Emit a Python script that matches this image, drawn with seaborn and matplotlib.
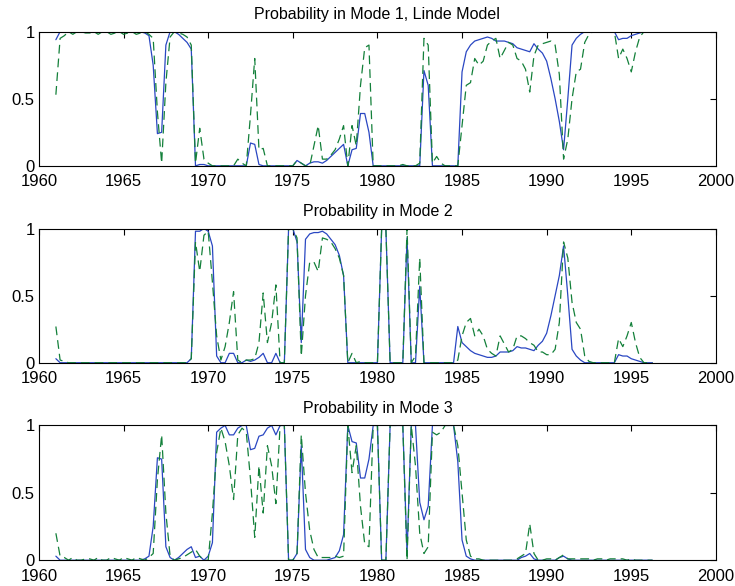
import numpy as np
import pandas as pd
import matplotlib
matplotlib.use("Agg")
import matplotlib.pyplot as plt
import seaborn as sns

# quarterly observations, 1961Q1 .. 1996Q2
years = np.arange(1961, 1996.26, 0.25)

# Mode 1 (Linde model) - solid / dashed estimates
mode1_solid = [
    0.94, 1.00, 1.00, 1.00,
    1.00, 1.00, 1.00, 1.00,
    1.00, 1.00, 1.00, 1.00,
    1.00, 1.00, 1.00, 1.00,
    1.00, 1.00, 1.00, 1.00,
    1.00, 0.99, 0.97, 0.75,
    0.24, 0.25, 0.90, 1.00,
    1.00, 0.98, 0.95, 0.92,
    0.87, 0.00, 0.01, 0.01,
    0.00, 0.00, 0.00, 0.00,
    0.00, 0.00, 0.00, 0.00,
    0.00, 0.00, 0.17, 0.16,
    0.01, 0.00, 0.00, 0.00,
    0.00, 0.00, 0.00, 0.00,
    0.00, 0.04, 0.02, 0.00,
    0.02, 0.03, 0.03, 0.02,
    0.04, 0.07, 0.10, 0.13,
    0.16, 0.00, 0.12, 0.13,
    0.39, 0.39, 0.25, 0.00,
    0.00, 0.00, 0.00, 0.00,
    0.00, 0.00, 0.00, 0.00,
    0.00, 0.00, 0.00, 0.71,
    0.60, 0.00, 0.00, 0.00,
    0.00, 0.00, 0.00, 0.00,
    0.70, 0.85, 0.90, 0.93,
    0.94, 0.95, 0.96, 0.95,
    0.93, 0.93, 0.93, 0.92,
    0.91, 0.88, 0.87, 0.86,
    0.85, 0.91, 0.87, 0.84,
    0.78, 0.65, 0.50, 0.33,
    0.12, 0.50, 0.90, 0.95,
    0.98, 1.00, 1.00, 1.00,
    1.00, 1.00, 1.00, 1.00,
    1.00, 0.94, 0.95, 0.95,
    0.97, 0.98, 0.99, 1.00,
    1.00, 1.00,
]
mode1_dashed = [
    0.53, 0.95, 0.97, 1.00,
    0.98, 1.00, 1.00, 0.99,
    0.99, 1.00, 0.98, 1.00,
    1.00, 0.98, 0.99, 1.00,
    0.98, 0.99, 1.00, 0.98,
    0.99, 1.00, 0.98, 0.95,
    0.40, 0.02, 0.62, 0.96,
    1.00, 0.99, 0.98, 0.96,
    0.90, 0.02, 0.28, 0.05,
    0.02, 0.00, 0.00, 0.00,
    0.00, 0.00, 0.00, 0.05,
    0.02, 0.00, 0.38, 0.80,
    0.12, 0.13, 0.00, 0.00,
    0.00, 0.00, 0.00, 0.00,
    0.00, 0.04, 0.02, 0.00,
    0.00, 0.15, 0.30, 0.05,
    0.05, 0.08, 0.12, 0.20,
    0.30, 0.00, 0.30, 0.15,
    0.60, 0.88, 0.90, 0.00,
    0.00, 0.00, 0.00, 0.00,
    0.00, 0.00, 0.01, 0.00,
    0.00, 0.00, 0.02, 0.95,
    0.90, 0.02, 0.07, 0.02,
    0.00, 0.00, 0.00, 0.00,
    0.30, 0.60, 0.62, 0.80,
    0.75, 0.78, 0.90, 0.93,
    0.95, 0.80, 0.86, 0.92,
    0.90, 0.80, 0.78, 0.72,
    0.55, 0.82, 0.90, 0.91,
    0.92, 0.93, 0.90, 0.68,
    0.05, 0.20, 0.50, 0.70,
    0.72, 0.92, 0.98, 1.00,
    1.00, 1.00, 1.00, 1.00,
    1.00, 0.80, 0.87, 0.80,
    0.70, 0.85, 0.96, 1.00,
    1.00, 1.00,
]

# Mode 2
mode2_solid = [
    0.03, 0.00, 0.00, 0.00,
    0.00, 0.00, 0.00, 0.00,
    0.00, 0.00, 0.00, 0.00,
    0.00, 0.00, 0.00, 0.00,
    0.00, 0.00, 0.00, 0.00,
    0.00, 0.00, 0.00, 0.00,
    0.00, 0.00, 0.00, 0.00,
    0.00, 0.00, 0.00, 0.00,
    0.03, 0.98, 0.98, 1.00,
    0.98, 0.87, 0.05, 0.00,
    0.00, 0.07, 0.07, 0.00,
    0.00, 0.02, 0.01, 0.02,
    0.04, 0.07, 0.00, 0.00,
    0.07, 0.00, 0.00, 1.00,
    1.00, 0.90, 0.15, 0.92,
    0.96, 0.97, 0.97, 0.98,
    0.96, 0.92, 0.88, 0.80,
    0.65, 0.00, 0.00, 0.00,
    0.00, 0.00, 0.00, 0.00,
    0.00, 1.00, 1.00, 0.00,
    0.00, 0.00, 0.00, 0.93,
    0.00, 0.00, 0.57, 0.00,
    0.00, 0.00, 0.00, 0.00,
    0.00, 0.00, 0.00, 0.27,
    0.15, 0.12, 0.09, 0.07,
    0.06, 0.05, 0.04, 0.04,
    0.05, 0.08, 0.08, 0.08,
    0.09, 0.12, 0.11, 0.11,
    0.10, 0.09, 0.13, 0.16,
    0.22, 0.35, 0.50, 0.65,
    0.87, 0.50, 0.10, 0.05,
    0.02, 0.00, 0.00, 0.00,
    0.00, 0.00, 0.00, 0.00,
    0.00, 0.06, 0.05, 0.05,
    0.03, 0.02, 0.01, 0.00,
    0.00, 0.00,
]
mode2_dashed = [
    0.27, 0.02, 0.01, 0.00,
    0.00, 0.00, 0.00, 0.00,
    0.00, 0.00, 0.00, 0.00,
    0.00, 0.00, 0.00, 0.00,
    0.00, 0.00, 0.00, 0.00,
    0.00, 0.00, 0.00, 0.00,
    0.00, 0.00, 0.00, 0.00,
    0.00, 0.00, 0.00, 0.00,
    0.03, 0.90, 0.68, 0.95,
    0.98, 0.60, 0.20, 0.02,
    0.12, 0.30, 0.53, 0.02,
    0.00, 0.02, 0.02, 0.03,
    0.15, 0.52, 0.15, 0.30,
    0.58, 0.00, 0.00, 1.00,
    1.00, 0.93, 0.05, 0.50,
    0.75, 0.75, 0.68, 0.93,
    0.92, 0.90, 0.85, 0.78,
    0.65, 0.00, 0.07, 0.00,
    0.01, 0.00, 0.00, 0.00,
    0.00, 1.00, 1.00, 0.00,
    0.00, 0.00, 0.00, 1.00,
    0.00, 0.05, 0.78, 0.00,
    0.00, 0.00, 0.00, 0.00,
    0.00, 0.00, 0.00, 0.02,
    0.20, 0.30, 0.33, 0.20,
    0.25, 0.20, 0.10, 0.07,
    0.05, 0.20, 0.14, 0.08,
    0.10, 0.20, 0.20, 0.18,
    0.15, 0.13, 0.08, 0.08,
    0.06, 0.06, 0.10, 0.30,
    0.90, 0.78, 0.45, 0.30,
    0.25, 0.05, 0.01, 0.00,
    0.00, 0.00, 0.00, 0.00,
    0.00, 0.18, 0.12, 0.20,
    0.30, 0.15, 0.04, 0.00,
    0.00, 0.00,
]

# Mode 3
mode3_solid = [
    0.03, 0.00, 0.00, 0.00,
    0.00, 0.00, 0.00, 0.00,
    0.00, 0.00, 0.00, 0.00,
    0.00, 0.00, 0.00, 0.00,
    0.00, 0.00, 0.00, 0.00,
    0.00, 0.01, 0.03, 0.25,
    0.76, 0.75, 0.10, 0.02,
    0.00, 0.02, 0.05, 0.08,
    0.10, 0.02, 0.03, 0.00,
    0.03, 0.13, 0.95, 0.98,
    1.00, 0.93, 0.93, 0.98,
    1.00, 1.00, 0.82, 0.83,
    0.92, 0.93, 0.98, 1.00,
    0.93, 1.00, 1.00, 0.00,
    0.00, 0.05, 0.85, 0.08,
    0.02, 0.00, 0.00, 0.00,
    0.00, 0.01, 0.02, 0.07,
    0.19, 1.00, 0.88, 0.87,
    0.61, 0.61, 0.75, 1.00,
    1.00, 0.00, 0.00, 1.00,
    1.00, 1.00, 1.00, 0.05,
    1.00, 1.00, 0.43, 0.30,
    0.40, 1.00, 1.00, 1.00,
    1.00, 1.00, 1.00, 0.73,
    0.15, 0.03, 0.01, 0.00,
    0.00, 0.00, 0.00, 0.00,
    0.00, 0.00, 0.00, 0.00,
    0.00, 0.00, 0.02, 0.03,
    0.05, 0.01, 0.00, 0.00,
    0.00, 0.00, 0.00, 0.02,
    0.03, 0.01, 0.00, 0.00,
    0.00, 0.00, 0.00, 0.00,
    0.00, 0.00, 0.00, 0.00,
    0.00, 0.00, 0.00, 0.00,
    0.00, 0.00, 0.00, 0.00,
    0.00, 0.00,
]
mode3_dashed = [
    0.20, 0.03, 0.02, 0.00,
    0.02, 0.00, 0.00, 0.01,
    0.01, 0.00, 0.02, 0.00,
    0.00, 0.02, 0.01, 0.00,
    0.02, 0.01, 0.00, 0.02,
    0.01, 0.00, 0.02, 0.05,
    0.60, 0.93, 0.35, 0.03,
    0.00, 0.01, 0.02, 0.04,
    0.06, 0.08, 0.03, 0.00,
    0.00, 0.35, 0.80, 0.98,
    0.88, 0.70, 0.45, 0.93,
    0.98, 0.95, 0.60, 0.17,
    0.70, 0.35, 0.85, 0.70,
    0.42, 1.00, 1.00, 0.00,
    0.00, 0.05, 0.93, 0.50,
    0.22, 0.08, 0.02, 0.02,
    0.02, 0.02, 0.03, 0.02,
    0.03, 1.00, 0.65, 0.85,
    0.40, 0.12, 0.10, 1.00,
    1.00, 0.00, 0.00, 1.00,
    1.00, 1.00, 1.00, 0.00,
    1.00, 0.70, 0.20, 0.05,
    0.10, 0.95, 0.93, 0.95,
    1.00, 1.00, 1.00, 0.85,
    0.50, 0.15, 0.03, 0.01,
    0.01, 0.00, 0.00, 0.00,
    0.00, 0.00, 0.00, 0.00,
    0.00, 0.01, 0.03, 0.05,
    0.27, 0.05, 0.00, 0.00,
    0.01, 0.01, 0.00, 0.02,
    0.04, 0.01, 0.01, 0.01,
    0.01, 0.01, 0.01, 0.00,
    0.01, 0.01, 0.00, 0.01,
    0.01, 0.01, 0.01, 0.00,
    0.01, 0.00, 0.00, 0.00,
    0.00, 0.00,
]

titles = ["Probability in Mode 1, Linde Model",
          "Probability in Mode 2",
          "Probability in Mode 3"]
solid = [mode1_solid, mode2_solid, mode3_solid]
dashed = [mode1_dashed, mode2_dashed, mode3_dashed]
xticks = [1960, 1965, 1970, 1975, 1980, 1985, 1990, 1995, 2000]
yticks = [0, 0.5, 1]
ytick_labels = ["0", "0.5", "1"]

sns.set_theme(style="white")
plt.rcParams['font.family'] = ['Liberation Sans', 'DejaVu Sans']

fig = plt.figure(figsize=(7.35, 5.86), dpi=100)
# axes boxes (left, bottom, width, height) in figure fractions
boxes = [(0.053, 0.717, 0.921, 0.229),
         (0.053, 0.381, 0.921, 0.229),
         (0.053, 0.044, 0.921, 0.230)]

for i in range(3):
    ax = fig.add_axes(boxes[i])
    df = pd.DataFrame({'year': years, 'solid': solid[i], 'dashed': dashed[i]})
    sns.lineplot(data=df, x='year', y='solid', ax=ax, color='#2a47c2',
                 linewidth=0.9, estimator=None)
    sns.lineplot(data=df, x='year', y='dashed', ax=ax, color='#13803a',
                 linewidth=0.9, estimator=None, dashes=False)
    ax.lines[-1].set_dashes((7, 4))
    ax.set_xlim(1960, 2000)
    ax.set_ylim(0, 1)
    ax.set_xticks(xticks)
    ax.set_xticklabels([str(x) for x in xticks])
    ax.set_yticks(yticks)
    ax.set_yticklabels(ytick_labels)
    ax.set_xlabel('')
    ax.set_ylabel('')
    ax.set_title(titles[i], fontsize=11.5, pad=9, color='black')
    ax.tick_params(direction='in', length=4, width=0.8, labelsize=12,
                   top=True, right=True, colors='black')
    ax.tick_params(axis='x', pad=6)
    ax.tick_params(axis='y', pad=3)
    for s in ax.spines.values():
        s.set_color('black')
        s.set_linewidth(0.8)
        s.set_visible(True)

fig.savefig("out.png", dpi=100, facecolor='white')
